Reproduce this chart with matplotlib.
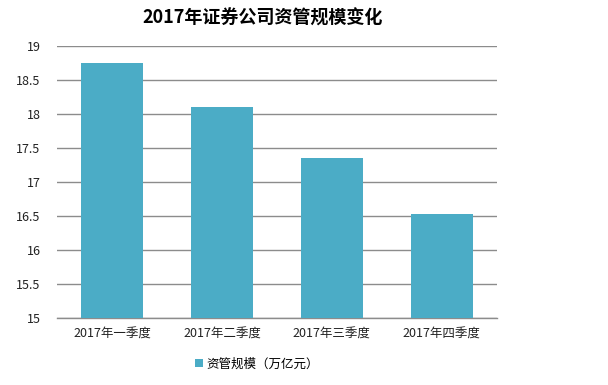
import matplotlib
matplotlib.use("Agg")
import matplotlib.pyplot as plt
from matplotlib.patches import Patch

plt.rcParams['font.family'] = ['Noto Sans CJK SC', 'DejaVu Sans']

quarters = ['2017年一季度', '2017年二季度', '2017年三季度', '2017年四季度']
scale = [18.76, 18.10, 17.36, 16.54]
yticks = [15, 15.5, 16, 16.5, 17, 17.5, 18, 18.5, 19]
ytick_labels = ['15', '15.5', '16', '16.5', '17', '17.5', '18', '18.5', '19']

bar_color = '#4BACC6'
grid_color = '#8c8c8c'

fig = plt.figure(figsize=(6.08, 3.85), dpi=100)
ax = fig.add_axes([0.094, 0.173, 0.723, 0.707])

x = range(len(quarters))
ax.bar(x, scale, width=0.56, color=bar_color, zorder=3)

ax.set_ylim(15, 19)
ax.set_xlim(-0.5, len(quarters) - 0.5)
ax.set_yticks(yticks)
ax.set_yticklabels(ytick_labels, fontsize=9)
ax.set_xticks(list(x))
ax.set_xticklabels(quarters, fontsize=9)
ax.tick_params(axis='both', length=0, colors='#222222')
ax.tick_params(axis='y', pad=12)
ax.tick_params(axis='x', pad=7)
ax.grid(axis='y', color=grid_color, linewidth=1.0, zorder=0)

for s in ['left', 'right', 'top']:
    ax.spines[s].set_visible(False)
ax.spines['bottom'].set_color(grid_color)
ax.spines['bottom'].set_linewidth(1.0)

fig.text(0.432, 0.952, '2017年证券公司资管规模变化', ha='center', va='center',
         fontsize=13, fontweight='bold')

handle = Patch(facecolor=bar_color, edgecolor='none')
fig.legend([handle], ['资管规模（万亿元）'], loc='center',
           bbox_to_anchor=(0.423, 0.054), frameon=False, fontsize=9,
           handlelength=0.6, handleheight=0.6, handletextpad=0.3)

fig.savefig('out.png', dpi=100)
